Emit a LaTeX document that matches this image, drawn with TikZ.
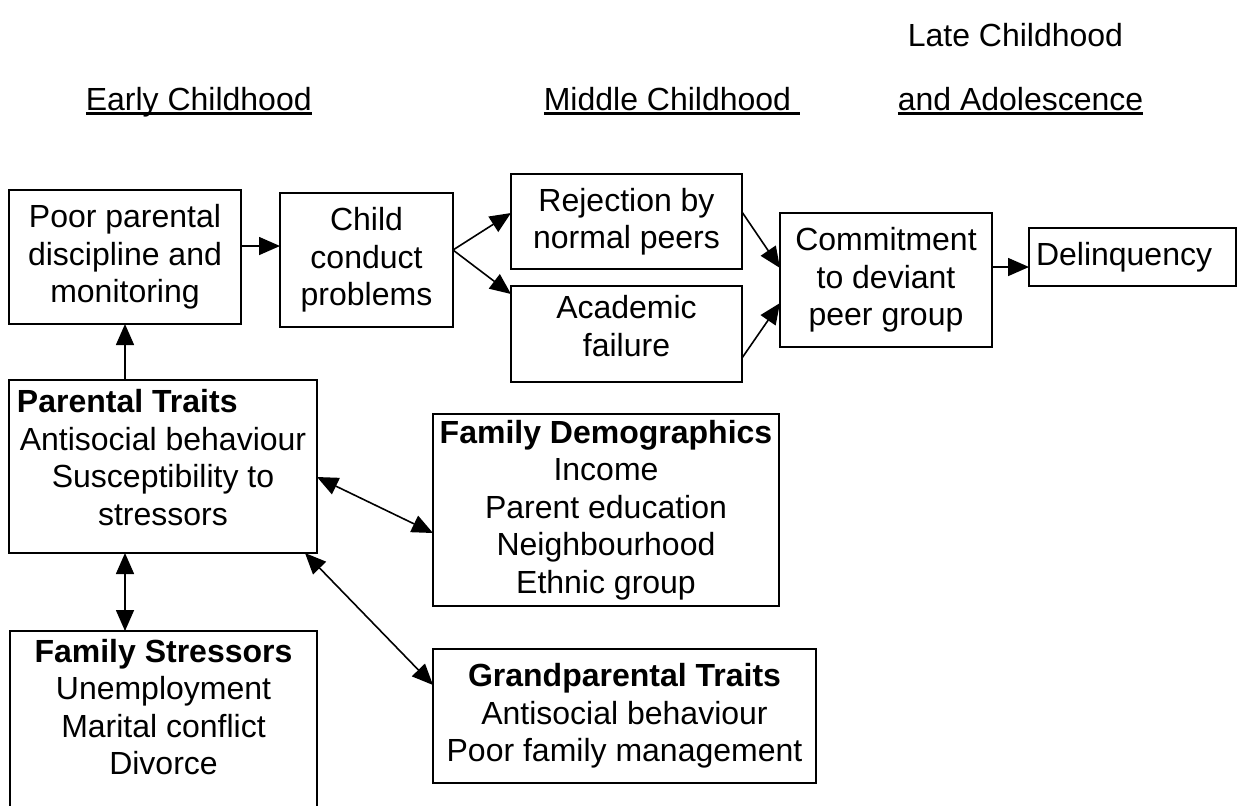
\documentclass[tikz,border=0pt]{standalone}
\usepackage{fontspec}
\setmainfont{Liberation Sans}
\usetikzlibrary{arrows.meta}
\newcommand{\hdul}[1]{\setbox0\hbox{#1}\rlap{\rule[-2.6pt]{\wd0}{1.6pt}}\box0}

\begin{document}
\begin{tikzpicture}[x=0.5pt,y=-0.5pt,line width=0.8pt,>={Triangle[length=10.5pt,width=9pt]}]
\tikzstyle{blk}=[draw, align=flush center, inner xsep=2pt, inner ysep=0pt, outer sep=0pt,
anchor=north west, font=\fontsize{16pt}{18.75pt}\selectfont]
\tikzstyle{hdr}=[anchor=base west, inner sep=0pt, font=\fontsize{16pt}{18.75pt}\selectfont]

\useasboundingbox (0,0) rectangle (1237,805);
\clip (0,0) rectangle (1237,805);

\node (late) [hdr] at (907,46) {Late Childhood};
\node (early) [hdr] at (85,110) {\hdul{Early Childhood}};
\node (middle) [hdr] at (543,110) {\hdul{Middle Childhood\ }};
\node (adol) [hdr] at (897,110) {\hdul{and Adolescence}};

\node (poor) [blk, minimum width=116pt, minimum height=67pt] at (9,190) {Poor parental\\discipline and\\monitoring};
\path (poor.north east)+(39,3) node (child) [blk, minimum width=86.5pt, minimum height=67pt] {Child\\conduct\\problems};
\path (child.north east)+(58,-19) node (reject) [blk, minimum width=115.5pt, minimum height=47.5pt] {Rejection by\\normal peers};
\path (reject.south west)+(0,17) node (acad) [blk, text width=111.5pt, minimum height=48pt] {Academic\\failure\par\kern8pt};
\path (reject.north east)+(38,39) node (commit) [blk, minimum width=106pt, minimum height=67pt] {Commitment\\to deviant\\peer group};
\path (commit.north east)+(37,15) node (delinq) [blk, align=flush left, text width=96.5pt, inner xsep=3.5pt, minimum height=29pt] {Delinquency};

\path (poor.south west)+(0,56) node (ptraits) [blk, text width=146pt, inner xsep=4pt, minimum height=86.5pt] {\makebox[146pt][l]{\textbf{Parental Traits}}\\Antisocial behaviour\\Susceptibility to\\stressors\par\kern9pt};
\path (ptraits.south west)+(1,78) node (stress) [blk, inner xsep=1.75pt, inner ysep=4pt] {\parbox[c][95pt][t]{150pt}{\centering\textbf{Family Stressors}\\Unemployment\\Marital conflict\\Divorce}};
\path (ptraits.north east)+(116,34) node (famdem) [blk, minimum width=173pt, minimum height=96pt] {\textbf{Family Demographics}\\Income\\Parent education\\Neighbourhood\\Ethnic group};
\path (famdem.south west)+(0,43) node (grand) [blk, minimum width=191.5pt, minimum height=67pt] {\textbf{Grandparental Traits}\\Antisocial behaviour\\Poor family management};

\coordinate (pc) at ([yshift=5.5pt]poor.east);
\draw[->] (pc) -- (pc -| child.west);
\coordinate (fork) at ([yshift=5pt]child.east);
\draw[->] (fork) -- ([yshift=4.25pt]reject.west);
\draw[->] (fork) -- ([yshift=20pt]acad.west);
\draw[->] ([yshift=4.75pt]reject.east) -- ([yshift=6pt]commit.west);
\draw[->] ([yshift=-12pt]acad.east) -- ([yshift=-11.5pt]commit.west);
\coordinate (cd) at ([yshift=-5pt]delinq.west);
\draw[->] (cd -| commit.east) -- (cd);
\draw[->] (poor.south |- ptraits.north) -- (poor.south);
\draw[<->] (poor.south |- ptraits.south) -- (poor.south |- stress.north);
\draw[<->] ([yshift=-5.25pt]ptraits.east) -- ([yshift=-11.5pt]famdem.west);
\draw[<->] ([xshift=-6pt]ptraits.south east) -- ([yshift=15.5pt]grand.west);
\end{tikzpicture}
\end{document}
